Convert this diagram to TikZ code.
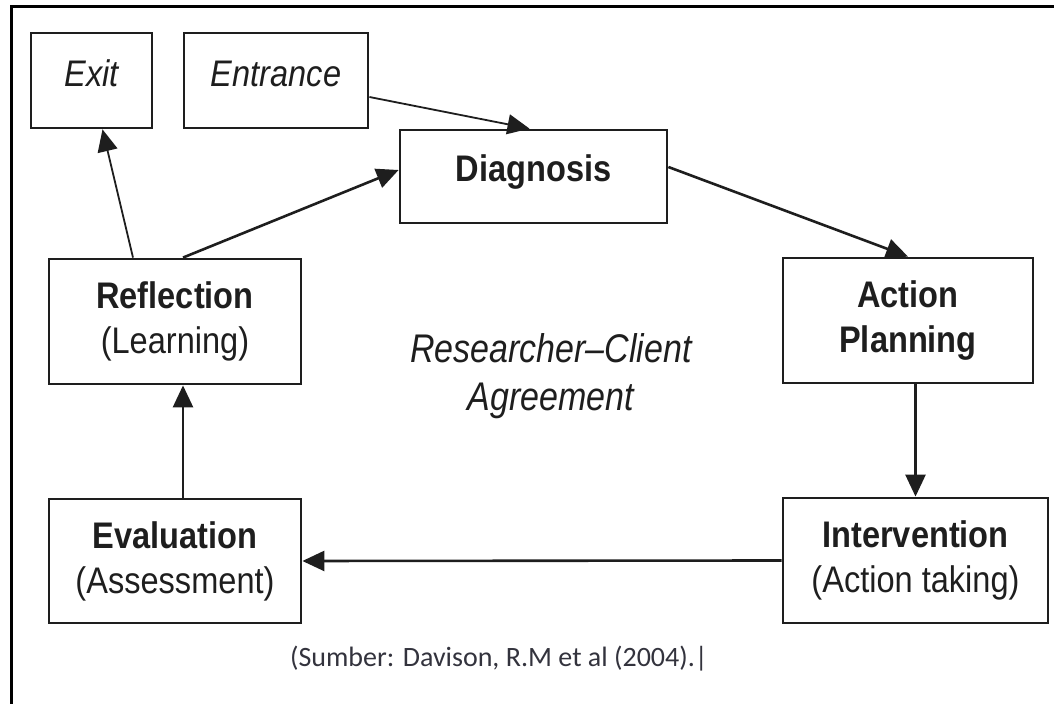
\documentclass[tikz,border=0pt]{standalone}
\usepackage{fontspec}
\usepackage{xcolor}
\usepackage{tikz}
\usetikzlibrary{arrows.meta, positioning}
\newfontfamily\boxfont[FakeStretch=0.88]{Liberation Sans}
\newfontfamily\agreefont[FakeStretch=0.85]{Liberation Sans}
\newfontfamily\srcfont{Carlito}
\definecolor{inkgray}{HTML}{1E1E1E}
\definecolor{srcink}{HTML}{33333D}
\tikzset{
  stagenode/.style={draw=inkgray,line width=1.4pt,inner sep=0pt,align=center,text=inkgray,
    font=\boxfont\fontsize{18.5}{22.5}\selectfont},
  gatenode/.style={stagenode,font=\boxfont\itshape\fontsize{18.5}{22.5}\selectfont,
    text height=27pt,text depth=20.5pt},
  cycedge/.style={-{Triangle[length=11pt,width=10pt]},line width=1.3pt,inkgray},
  gateedge/.style={cycedge,line width=0.9pt},
}

\begin{document}
\begin{tikzpicture}[x=0.5pt,y=-0.5pt]
  \useasboundingbox (0,0) rectangle (1054,704);
  \draw[line width=1.5pt,black] (1054,7) -- (11,7) -- (11,704);
  \node[gatenode,minimum width=60.5pt] (nExit) at (91.5,80.5) {Exit};
  \node[gatenode,minimum width=92pt] (nEntr) at (276,80.5) {Entrance};
  \node[stagenode,minimum width=133.5pt,text height=26pt,text depth=20.5pt] (nDiag) at (533.5,176.5) {\textbf{Diagnosis}};
  \node[stagenode,minimum width=125pt,minimum height=62.5pt] (nPlan) at (908,320.5) {\textbf{Action}\\\textbf{Planning}};
  \node[stagenode,minimum width=132.5pt,minimum height=62.5pt] (nInterv) at (915.5,560.5) {\textbf{Intervention}\\(Action taking)};
  \node[stagenode,minimum width=126pt,minimum height=62pt] (nEval) at (175,561) {\textbf{Evaluation}\\(Assessment)};
  \node[stagenode,minimum width=126pt,minimum height=62.5pt] (nRefl) at (175,321.5) {\textbf{Reflection}\\(Learning)};
  \node[align=center,text=inkgray,font=\agreefont\itshape\fontsize{20}{24}\selectfont] (nAgree) at (551,376) {Researcher–Client\\Agreement};
  \node[anchor=base west,text=srcink,font=\srcfont\fontsize{14}{17}\selectfont] (nSrc) at (283,667) {(Sumber: Davison, R.M et al (2004).|};
  \draw[gateedge] ([yshift=-8.25pt]nEntr.east) -- ([xshift=-2pt]nDiag.north);
  \draw[gateedge] ([xshift=-21pt]nRefl.north) -- ([xshift=5.5pt]nExit.south);
  \draw[cycedge] ([xshift=4pt]nRefl.north) -- ([yshift=3.25pt]nDiag.west);
  \draw[cycedge] ([yshift=4.75pt]nDiag.east) -- (nPlan.north);
  \draw[cycedge] (nInterv.north |- nPlan.south) -- (nInterv.north);
  \draw[cycedge] (nInterv.west) -- (nEval.east);
  \draw[cycedge] ([xshift=4pt]nEval.north) -- ([xshift=4pt]nRefl.south);
\end{tikzpicture}
\end{document}
